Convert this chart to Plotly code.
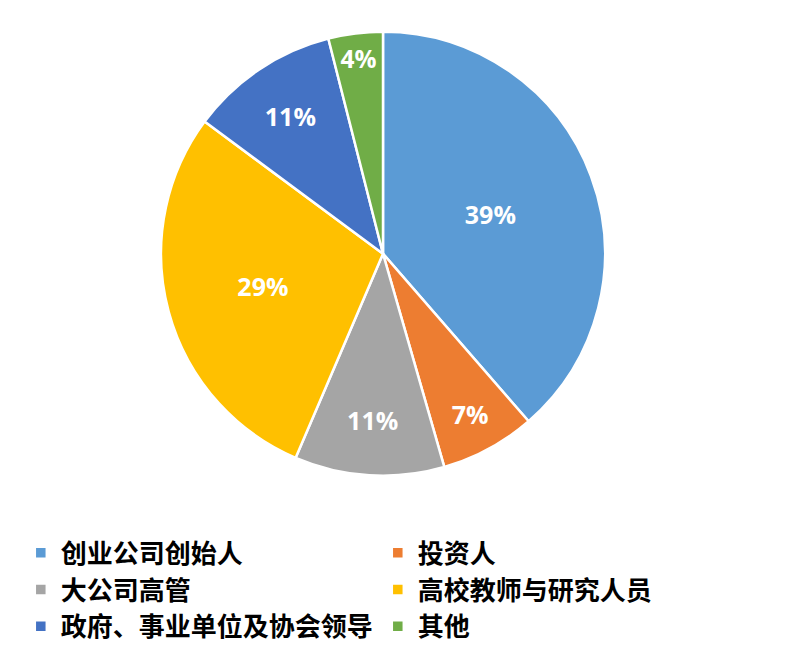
import plotly.graph_objects as go

# Data
categories = ["创业公司创始人", "投资人", "大公司高管", "高校教师与研究人员", "政府、事业单位及协会领导", "其他"]
shares = [39, 7, 11, 29, 11, 4]
colors = ["#5B9BD5", "#ED7D31", "#A5A5A5", "#FFC000", "#4472C4", "#70AD47"]

fig = go.Figure(
    go.Pie(
        labels=categories,
        values=shares,
        sort=False,
        direction="clockwise",
        rotation=0,
        marker=dict(colors=colors, line=dict(color="white", width=2.5)),
        texttemplate="%{percent:.0%}",
        textposition="inside",
        insidetextorientation="horizontal",
        textfont=dict(family="Open Sans", size=25, color="white", weight="bold"),
        domain=dict(x=[0.19125, 0.74625], y=[0.28, 0.964]),
        hoverinfo="label+percent",
    )
)

fig.update_layout(
    width=800,
    height=650,
    margin=dict(l=0, r=0, t=0, b=0),
    paper_bgcolor="white",
    showlegend=True,
    legend=dict(
        orientation="h",
        x=0.016,
        y=0.198,
        xanchor="left",
        yanchor="top",
        entrywidth=312,
        entrywidthmode="pixels",
        font=dict(family="Noto Sans CJK SC", size=26, color="black", weight="bold"),
    ),
)

fig.write_html("out.html")
